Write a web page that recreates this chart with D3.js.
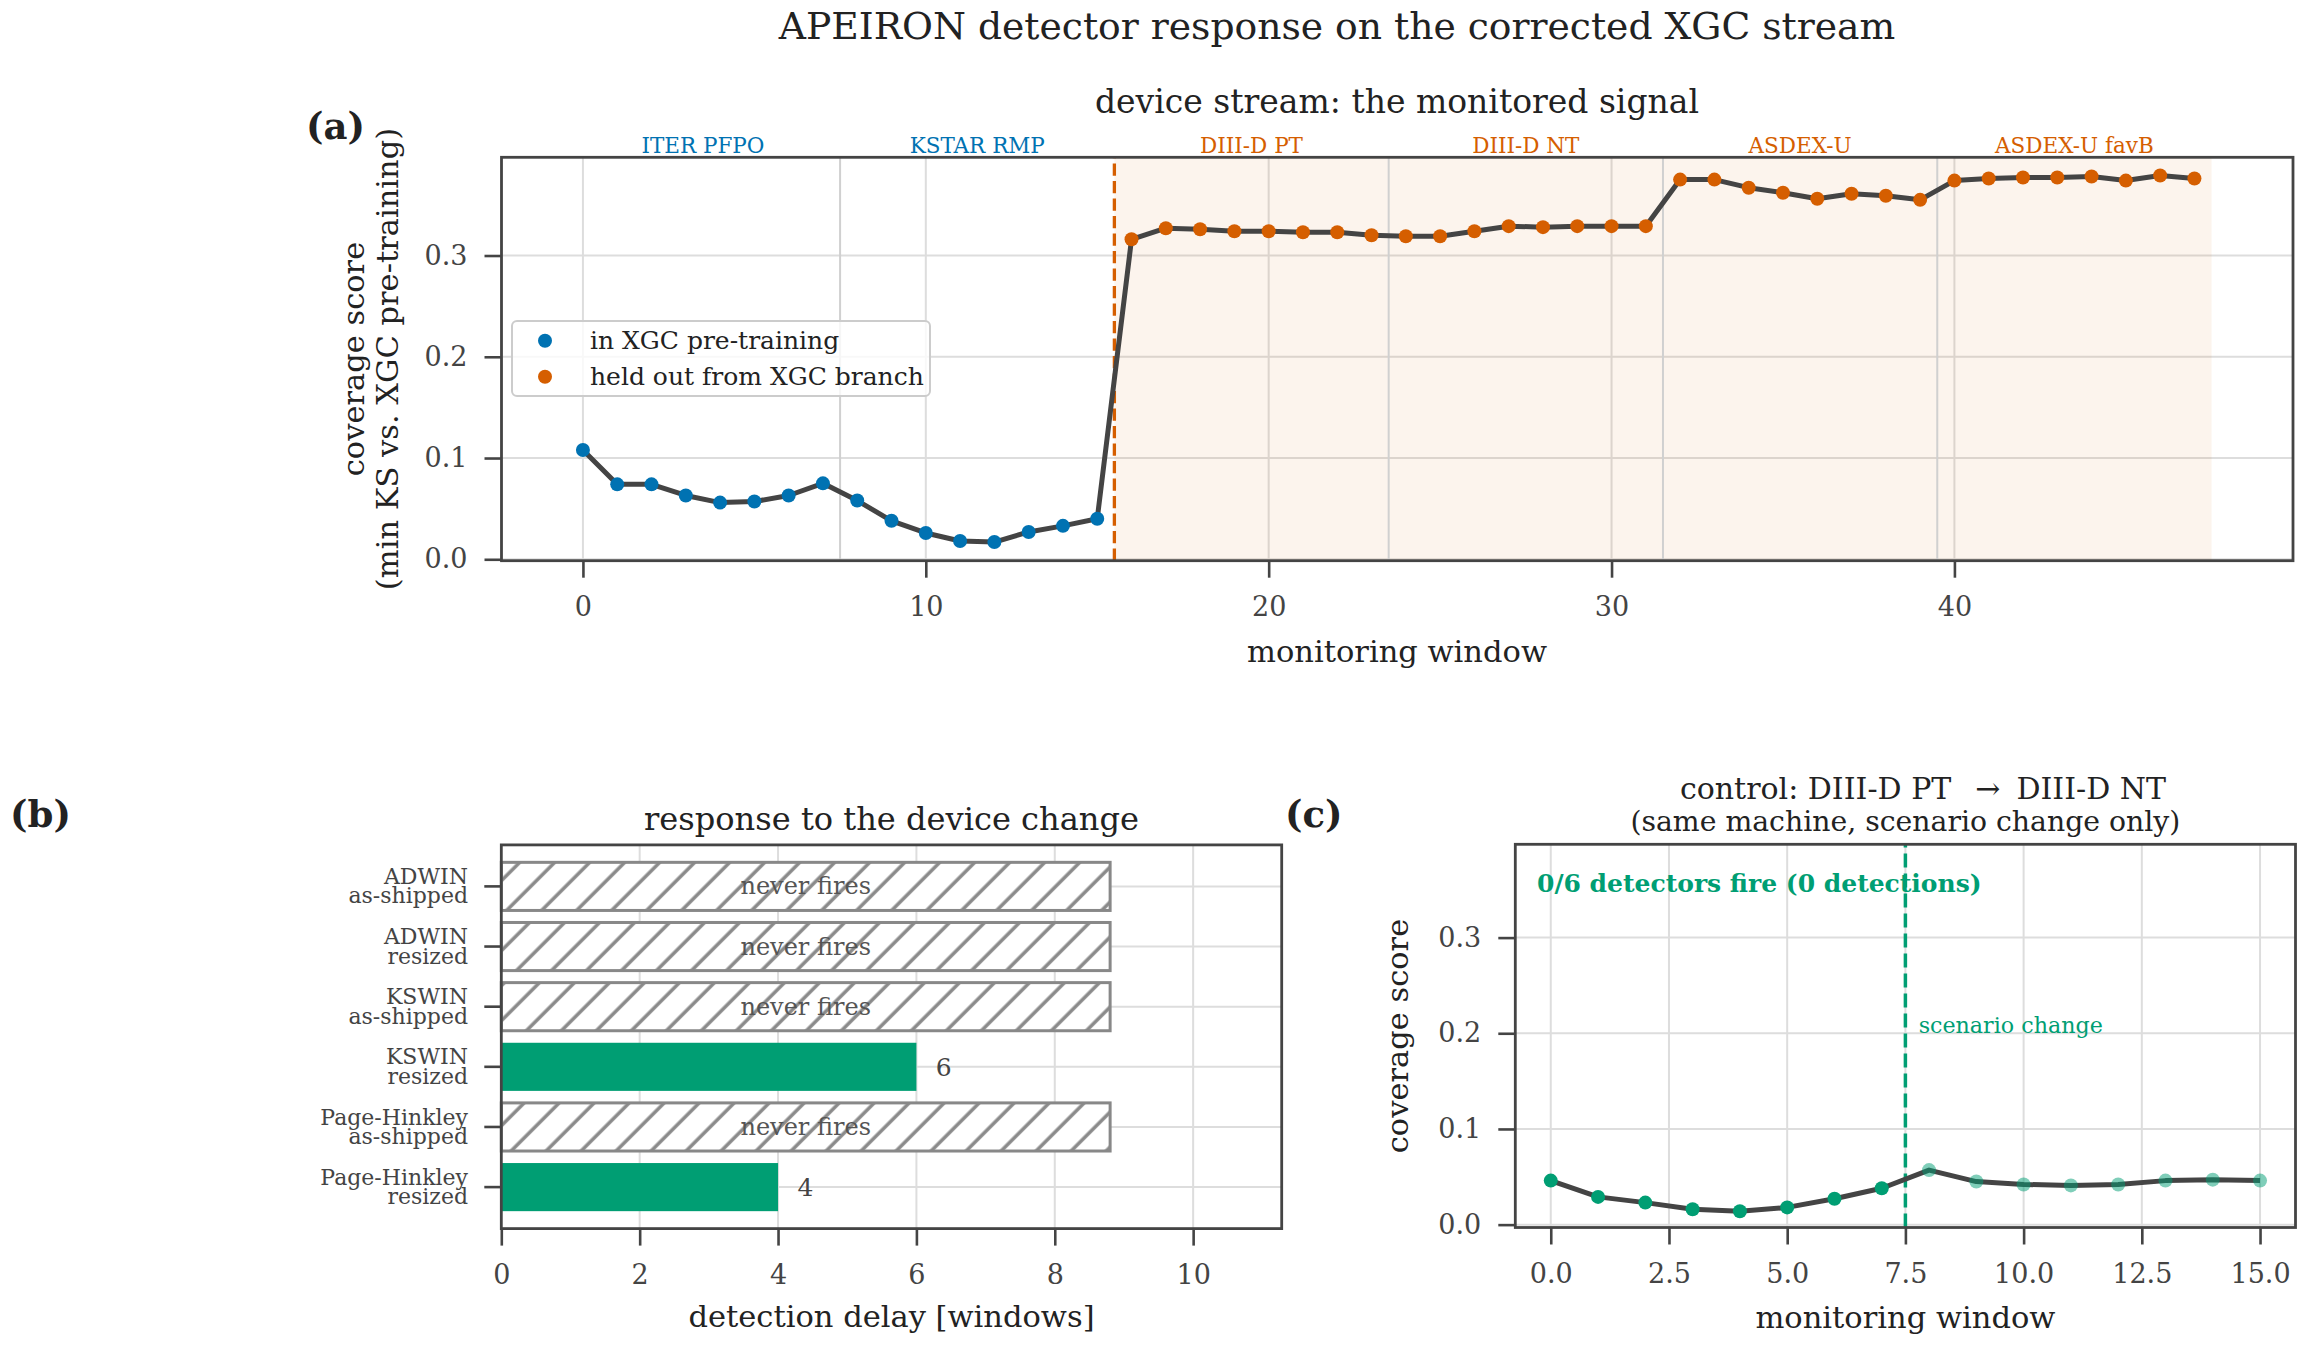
<!DOCTYPE html>
<html>
<head>
<meta charset="utf-8">
<script src="https://cdn.jsdelivr.net/npm/d3@7"></script>
<style>
  body { margin: 0; background: #fff; }
  text { font-family: "DejaVu Serif", serif; }
</style>
</head>
<body>
<div id="chart"></div>
<script>
// ---- data ----
const streamScores = [
  0.108, 0.074, 0.074, 0.063, 0.056, 0.057, 0.063, 0.075, 0.058, 0.038,
  0.026, 0.018, 0.017, 0.027, 0.033, 0.040, 0.316, 0.327, 0.326, 0.324,
  0.324, 0.323, 0.323, 0.320, 0.319, 0.319, 0.324, 0.329, 0.328, 0.329,
  0.329, 0.329, 0.375, 0.375, 0.367, 0.362, 0.356, 0.361, 0.359, 0.355,
  0.374, 0.376, 0.377, 0.377, 0.378, 0.374, 0.379, 0.376
];
const pretrainWindows = 16;   // windows 0..15 are in XGC pre-training
const segmentNames = ["ITER PFPO", "KSTAR RMP", "DIII-D PT", "DIII-D NT", "ASDEX-U", "ASDEX-U favB"];
const segmentEdges = [-0.5, 7.5, 15.5, 23.5, 31.5, 39.5, 47.5];
const segmentHeldOut = [false, false, true, true, true, true];
const deviceChange = 15.5;

const detectorNames = [
  ["ADWIN", "as-shipped"], ["ADWIN", "resized"],
  ["KSWIN", "as-shipped"], ["KSWIN", "resized"],
  ["Page-Hinkley", "as-shipped"], ["Page-Hinkley", "resized"]
];
const detectorDelays = [null, null, null, 6, null, 4];   // null = never fires
const neverLength = 8.8;

const controlScores = [
  0.046, 0.029, 0.023, 0.016, 0.014, 0.018, 0.027, 0.038,
  0.057, 0.045, 0.042, 0.041, 0.042, 0.046, 0.047, 0.046
];
const controlChange = 7.5;

const xTicksA = [0, 10, 20, 30, 40];
const yTicks = [0, 0.1, 0.2, 0.3];
const xTicksB = [0, 2, 4, 6, 8, 10];
const xTicksC = [0, 2.5, 5, 7.5, 10, 12.5, 15];

const BLUE = "#0072B2", ORANGE = "#D55E00", GREEN = "#009E73";
const INK = "#222222", AXIS = "#444444", GRID = "#dddddd";

// ---- setup ----
const svg = d3.select("#chart").append("svg")
  .attr("width", 2304).attr("height", 1345);

const defs = svg.append("defs");
defs.append("pattern")
    .attr("id", "hatch")
    .attr("patternUnits", "userSpaceOnUse")
    .attr("width", 24.75).attr("height", 24.75)
    .attr("patternTransform", "rotate(45)")
  .append("line")
    .attr("x1", 12).attr("y1", -1).attr("x2", 12).attr("y2", 26)
    .attr("stroke", "#888888").attr("stroke-width", 3.4);

function frame(x0, x1, y0, y1)
{
  svg.append("rect")
    .attr("x", x0).attr("y", y0)
    .attr("width", x1 - x0).attr("height", y1 - y0)
    .attr("fill", "none").attr("stroke", AXIS).attr("stroke-width", 2.8);
}

function styleAxis(g, size)
{
  g.select(".domain").remove();
  g.selectAll(".tick line").attr("stroke", AXIS).attr("stroke-width", 2.6);
  g.selectAll(".tick text")
    .attr("fill", AXIS)
    .attr("font-family", "DejaVu Serif")
    .attr("font-size", size || 27);
}

function label(x, y, txt, opts)
{
  opts = opts || {};
  return svg.append("text")
    .attr("x", x).attr("y", y)
    .attr("text-anchor", opts.anchor || "middle")
    .attr("font-size", opts.size || 30.5)
    .attr("font-weight", opts.weight || "normal")
    .attr("fill", opts.fill || INK)
    .text(txt);
}

// ---- titles ----
label(1337, 39, "APEIRON detector response on the corrected XGC stream", {size: 37.7});
label(306, 139, "(a)", {anchor: "start", size: 37, weight: "bold"});
label(10, 827, "(b)", {anchor: "start", size: 37, weight: "bold"});
label(1285, 827, "(c)", {anchor: "start", size: 37, weight: "bold"});

// ================= panel (a) =================
const xa = d3.scaleLinear().domain([-2.375, 49.875]).range([501.5, 2293]);
const ya = d3.scaleLinear().domain([-0.0014, 0.397]).range([560.7, 157.3]);

const ga = svg.append("g");
ga.selectAll("line.vgrid").data(xTicksA).join("line")
  .attr("x1", d => xa(d)).attr("x2", d => xa(d))
  .attr("y1", ya.range()[0]).attr("y2", ya.range()[1])
  .attr("stroke", GRID).attr("stroke-width", 2);
ga.selectAll("line.hgrid").data(yTicks).join("line")
  .attr("x1", xa.range()[0]).attr("x2", xa.range()[1])
  .attr("y1", d => ya(d)).attr("y2", d => ya(d))
  .attr("stroke", GRID).attr("stroke-width", 2);

// held-out shading
ga.append("rect")
  .attr("x", xa(deviceChange)).attr("y", ya.range()[1])
  .attr("width", xa(segmentEdges[segmentEdges.length - 1]) - xa(deviceChange))
  .attr("height", ya.range()[0] - ya.range()[1])
  .attr("fill", ORANGE).attr("fill-opacity", 0.07);

// segment separators (except device change)
const innerEdges = segmentEdges.slice(1, -1).filter(e => e !== deviceChange);
ga.selectAll("line.sep").data(innerEdges).join("line")
  .attr("x1", d => xa(d)).attr("x2", d => xa(d))
  .attr("y1", ya.range()[0]).attr("y2", ya.range()[1])
  .attr("stroke", "#d0d0d0").attr("stroke-width", 2);

ga.append("line")
  .attr("x1", xa(deviceChange)).attr("x2", xa(deviceChange))
  .attr("y1", ya.range()[0]).attr("y2", ya.range()[1])
  .attr("stroke", ORANGE).attr("stroke-width", 3.3)
  .attr("stroke-dasharray", "12.2,5.3");

// segment names above the axes
ga.selectAll("text.seg").data(segmentNames).join("text")
  .attr("x", (d, i) => xa((segmentEdges[i] + segmentEdges[i + 1]) / 2))
  .attr("y", 153)
  .attr("text-anchor", "middle")
  .attr("font-size", 21.5)
  .attr("fill", (d, i) => segmentHeldOut[i] ? ORANGE : BLUE)
  .text(d => d);

ga.append("path")
  .datum(streamScores)
  .attr("d", d3.line().x((d, i) => xa(i)).y(d => ya(d)))
  .attr("fill", "none").attr("stroke", AXIS).attr("stroke-width", 5)
  .attr("stroke-linejoin", "round");

ga.selectAll("circle.pt").data(streamScores).join("circle")
  .attr("cx", (d, i) => xa(i)).attr("cy", d => ya(d)).attr("r", 7)
  .attr("fill", (d, i) => i < pretrainWindows ? BLUE : ORANGE);

frame(xa.range()[0], xa.range()[1], ya.range()[1], ya.range()[0]);

svg.append("g").attr("transform", `translate(0,${ya.range()[0]})`)
  .call(d3.axisBottom(xa).tickValues(xTicksA).tickSize(17).tickPadding(19).tickFormat(d3.format("d")))
  .call(g => styleAxis(g));
svg.append("g").attr("transform", `translate(${xa.range()[0]},0)`)
  .call(d3.axisLeft(ya).tickValues(yTicks).tickSize(17).tickPadding(17).tickFormat(d3.format(".1f")))
  .call(g => styleAxis(g));

label(1397, 113, "device stream: the monitored signal", {size: 33});
label(1397, 662, "monitoring window");
svg.append("text")
  .attr("transform", "translate(364,359) rotate(-90)")
  .attr("text-anchor", "middle").attr("font-size", 30.5).attr("fill", INK)
  .text("coverage score");
svg.append("text")
  .attr("transform", "translate(398,359) rotate(-90)")
  .attr("text-anchor", "middle").attr("font-size", 30.5).attr("fill", INK)
  .text("(min KS vs. XGC pre-training)");

// legend
const leg = svg.append("g");
leg.append("rect")
  .attr("x", 512).attr("y", 321).attr("width", 418).attr("height", 75).attr("rx", 5)
  .attr("fill", "#fff").attr("fill-opacity", 0.8)
  .attr("stroke", "#cccccc").attr("stroke-width", 2);
const legItems = [["in XGC pre-training", BLUE], ["held out from XGC branch", ORANGE]];
leg.selectAll("circle").data(legItems).join("circle")
  .attr("cx", 545).attr("cy", (d, i) => 340.7 + i * 36).attr("r", 7)
  .attr("fill", d => d[1]);
leg.selectAll("text").data(legItems).join("text")
  .attr("x", 590).attr("y", (d, i) => 349 + i * 36)
  .attr("font-size", 25).attr("fill", INK)
  .text(d => d[0]);

// ================= panel (b) =================
const xb = d3.scaleLinear().domain([0, 11.28]).range([501.3, 1281.7]);
const yb = d3.scaleLinear().domain([-0.69, 5.69]).range([844.9, 1228.6]);
const barH = yb(0.4) - yb(-0.4);
const idx = d3.range(detectorNames.length);

const gb = svg.append("g");
gb.selectAll("line.vgrid").data(xTicksB).join("line")
  .attr("x1", d => xb(d)).attr("x2", d => xb(d))
  .attr("y1", yb.range()[0]).attr("y2", yb.range()[1])
  .attr("stroke", GRID).attr("stroke-width", 2);
gb.selectAll("line.hgrid").data(idx).join("line")
  .attr("x1", xb.range()[0]).attr("x2", xb.range()[1])
  .attr("y1", d => yb(d)).attr("y2", d => yb(d))
  .attr("stroke", GRID).attr("stroke-width", 2);

const fired = idx.filter(i => detectorDelays[i] !== null);
const never = idx.filter(i => detectorDelays[i] === null);

gb.selectAll("rect.fired").data(fired).join("rect")
  .attr("x", xb(0)).attr("y", i => yb(i) - barH / 2)
  .attr("width", i => xb(detectorDelays[i]) - xb(0)).attr("height", barH)
  .attr("fill", GREEN);
gb.selectAll("rect.neverbg").data(never).join("rect")
  .attr("x", xb(0)).attr("y", i => yb(i) - barH / 2)
  .attr("width", xb(neverLength) - xb(0)).attr("height", barH)
  .attr("fill", "#fff");
gb.selectAll("rect.never").data(never).join("rect")
  .attr("x", xb(0)).attr("y", i => yb(i) - barH / 2)
  .attr("width", xb(neverLength) - xb(0)).attr("height", barH)
  .attr("fill", "url(#hatch)").attr("stroke", "#888888").attr("stroke-width", 3);

gb.selectAll("text.never").data(never).join("text")
  .attr("x", xb(neverLength / 2)).attr("y", i => yb(i) + 8)
  .attr("text-anchor", "middle").attr("font-size", 24).attr("fill", "#555")
  .text("never fires");
gb.selectAll("text.val").data(fired).join("text")
  .attr("x", i => xb(detectorDelays[i] + 0.28)).attr("y", i => yb(i) + 9)
  .attr("font-size", 25).attr("fill", AXIS)
  .text(i => detectorDelays[i]);

frame(xb.range()[0], xb.range()[1], yb.range()[0], yb.range()[1]);

svg.append("g").attr("transform", `translate(0,${yb.range()[1]})`)
  .call(d3.axisBottom(xb).tickValues(xTicksB).tickSize(17).tickPadding(19).tickFormat(d3.format("d")))
  .call(g => styleAxis(g));

// category ticks with two-line labels
gb.selectAll("line.ytick").data(idx).join("line")
  .attr("x1", xb.range()[0] - 17).attr("x2", xb.range()[0])
  .attr("y1", d => yb(d)).attr("y2", d => yb(d))
  .attr("stroke", AXIS).attr("stroke-width", 2.6);
const ylab = gb.selectAll("text.ylab").data(idx).join("text")
  .attr("text-anchor", "end").attr("font-size", 22).attr("fill", AXIS);
ylab.append("tspan").attr("x", 468).attr("y", d => yb(d) - 2.4).text(d => detectorNames[d][0]);
ylab.append("tspan").attr("x", 468).attr("y", d => yb(d) + 17).text(d => detectorNames[d][1]);

label(891.5, 830, "response to the device change", {size: 32.1});
label(891.5, 1327, "detection delay [windows]");

// ================= panel (c) =================
const xc = d3.scaleLinear().domain([-0.75, 15.75]).range([1515.3, 2295.5]);
const yc = d3.scaleLinear().domain([-0.003, 0.3975]).range([1227.5, 844.3]);

const gc = svg.append("g");
gc.selectAll("line.vgrid").data(xTicksC).join("line")
  .attr("x1", d => xc(d)).attr("x2", d => xc(d))
  .attr("y1", yc.range()[0]).attr("y2", yc.range()[1])
  .attr("stroke", GRID).attr("stroke-width", 2);
gc.selectAll("line.hgrid").data(yTicks).join("line")
  .attr("x1", xc.range()[0]).attr("x2", xc.range()[1])
  .attr("y1", d => yc(d)).attr("y2", d => yc(d))
  .attr("stroke", GRID).attr("stroke-width", 2);

gc.append("line")
  .attr("x1", xc(controlChange)).attr("x2", xc(controlChange))
  .attr("y1", yc.range()[0]).attr("y2", yc.range()[1])
  .attr("stroke", GREEN).attr("stroke-width", 3.5)
  .attr("stroke-dasharray", "14,6");

gc.append("path")
  .datum(controlScores)
  .attr("d", d3.line().x((d, i) => xc(i)).y(d => yc(d)))
  .attr("fill", "none").attr("stroke", AXIS).attr("stroke-width", 5)
  .attr("stroke-linejoin", "round");

gc.selectAll("circle.pt").data(controlScores).join("circle")
  .attr("cx", (d, i) => xc(i)).attr("cy", d => yc(d)).attr("r", 7)
  .attr("fill", GREEN)
  .attr("fill-opacity", (d, i) => i > controlChange ? 0.5 : 1);

gc.append("text")
  .attr("x", xc(controlChange + 0.28)).attr("y", yc(0.2))
  .attr("font-size", 22.2).attr("fill", GREEN)
  .text("scenario change");
gc.append("text")
  .attr("x", 1537).attr("y", 892)
  .attr("font-size", 25).attr("font-weight", "bold").attr("fill", GREEN)
  .text("0/6 detectors fire (0 detections)");

frame(xc.range()[0], xc.range()[1], yc.range()[1], yc.range()[0]);

svg.append("g").attr("transform", `translate(0,${yc.range()[0]})`)
  .call(d3.axisBottom(xc).tickValues(xTicksC).tickSize(17).tickPadding(19).tickFormat(d3.format(".1f")))
  .call(g => styleAxis(g));
svg.append("g").attr("transform", `translate(${xc.range()[0]},0)`)
  .call(d3.axisLeft(yc).tickValues(yTicks).tickSize(17).tickPadding(17).tickFormat(d3.format(".1f")))
  .call(g => styleAxis(g));

const ctitle = svg.append("text")
  .attr("x", 1923).attr("y", 799)
  .attr("text-anchor", "middle").attr("font-size", 30).attr("fill", INK);
ctitle.append("tspan").text("control: DIII-D PT");
ctitle.append("tspan").attr("dx", 24).text("\u2192");
ctitle.append("tspan").attr("dx", 16).text("DIII-D NT");
label(1905.4, 831, "(same machine, scenario change only)", {size: 28.3});
label(1905.4, 1328, "monitoring window");
svg.append("text")
  .attr("transform", "translate(1408,1036) rotate(-90)")
  .attr("text-anchor", "middle").attr("font-size", 30.5).attr("fill", INK)
  .text("coverage score");
</script>
</body>
</html>
